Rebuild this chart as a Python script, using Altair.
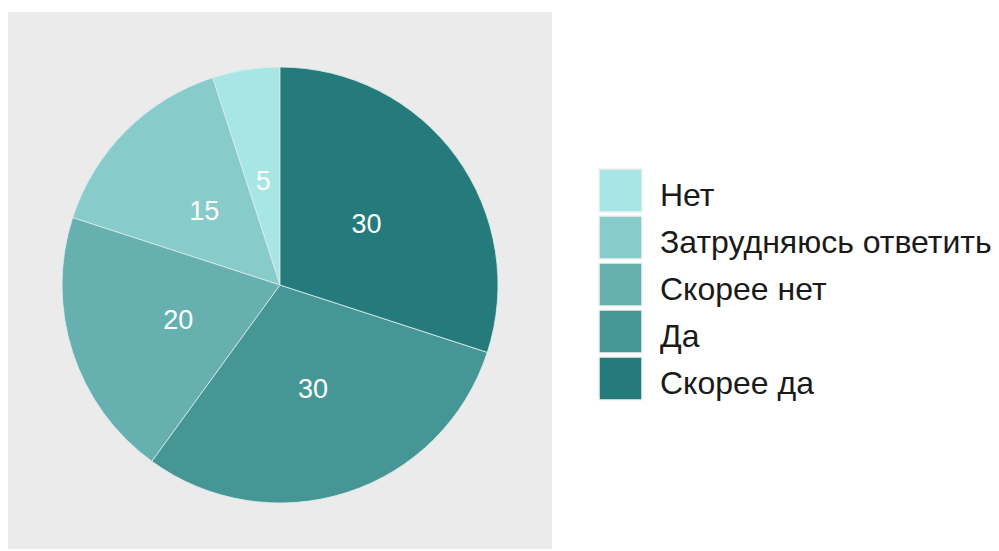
import altair as alt
import pandas as pd

categories = ["Нет", "Затрудняюсь ответить", "Скорее нет", "Да", "Скорее да"]
values = [5, 15, 20, 30, 30]
colors = ["#A8E6E5", "#88CBCB", "#67B0B0", "#479696", "#257B7B"]

df = pd.DataFrame({"cat": categories, "val": values, "idx": list(range(len(categories)))})

W, H = 544, 537
CX, CY = 272, 273

base = alt.Chart(df).encode(
    theta=alt.Theta("val:Q", stack=True),
    order=alt.Order("idx:Q", sort="descending"),
)

arc = base.mark_arc(outerRadius=218, stroke="#DDEEEE", strokeWidth=0.8).encode(
    x=alt.value(CX),
    y=alt.value(CY),
    color=alt.Color(
        "cat:N",
        scale=alt.Scale(domain=categories, range=colors),
        sort=categories,
        legend=alt.Legend(
            title=None,
            orient="none",
            legendX=590,
            legendY=156,
            symbolType="square",
            symbolSize=1849,
            symbolStrokeColor="#F2F2F2",
            symbolStrokeWidth=1.5,
            symbolOpacity=1,
            labelFont="Liberation Sans",
            labelFontSize=32,
            labelColor="#1A1A1A",
            labelOffset=17,
            rowPadding=-2,
            labelLimit=500,
        ),
    ),
)

text = base.mark_text(radius=107, font="Liberation Sans", fontSize=27, color="white", dy=3).encode(
    x=alt.value(CX),
    y=alt.value(CY),
    text=alt.Text("val:Q"),
)

chart = (
    alt.layer(arc, text)
    .properties(width=W, height=H, padding={"left": 8, "top": 12, "right": 0, "bottom": 2})
    .configure(
        background="white",
        view=alt.ViewConfig(fill="#EBEBEB", strokeWidth=0),
        style={"guide-label": {"dy": 5}},
    )
)

chart.save("out.html", embed_options={"renderer": "svg", "actions": False})
